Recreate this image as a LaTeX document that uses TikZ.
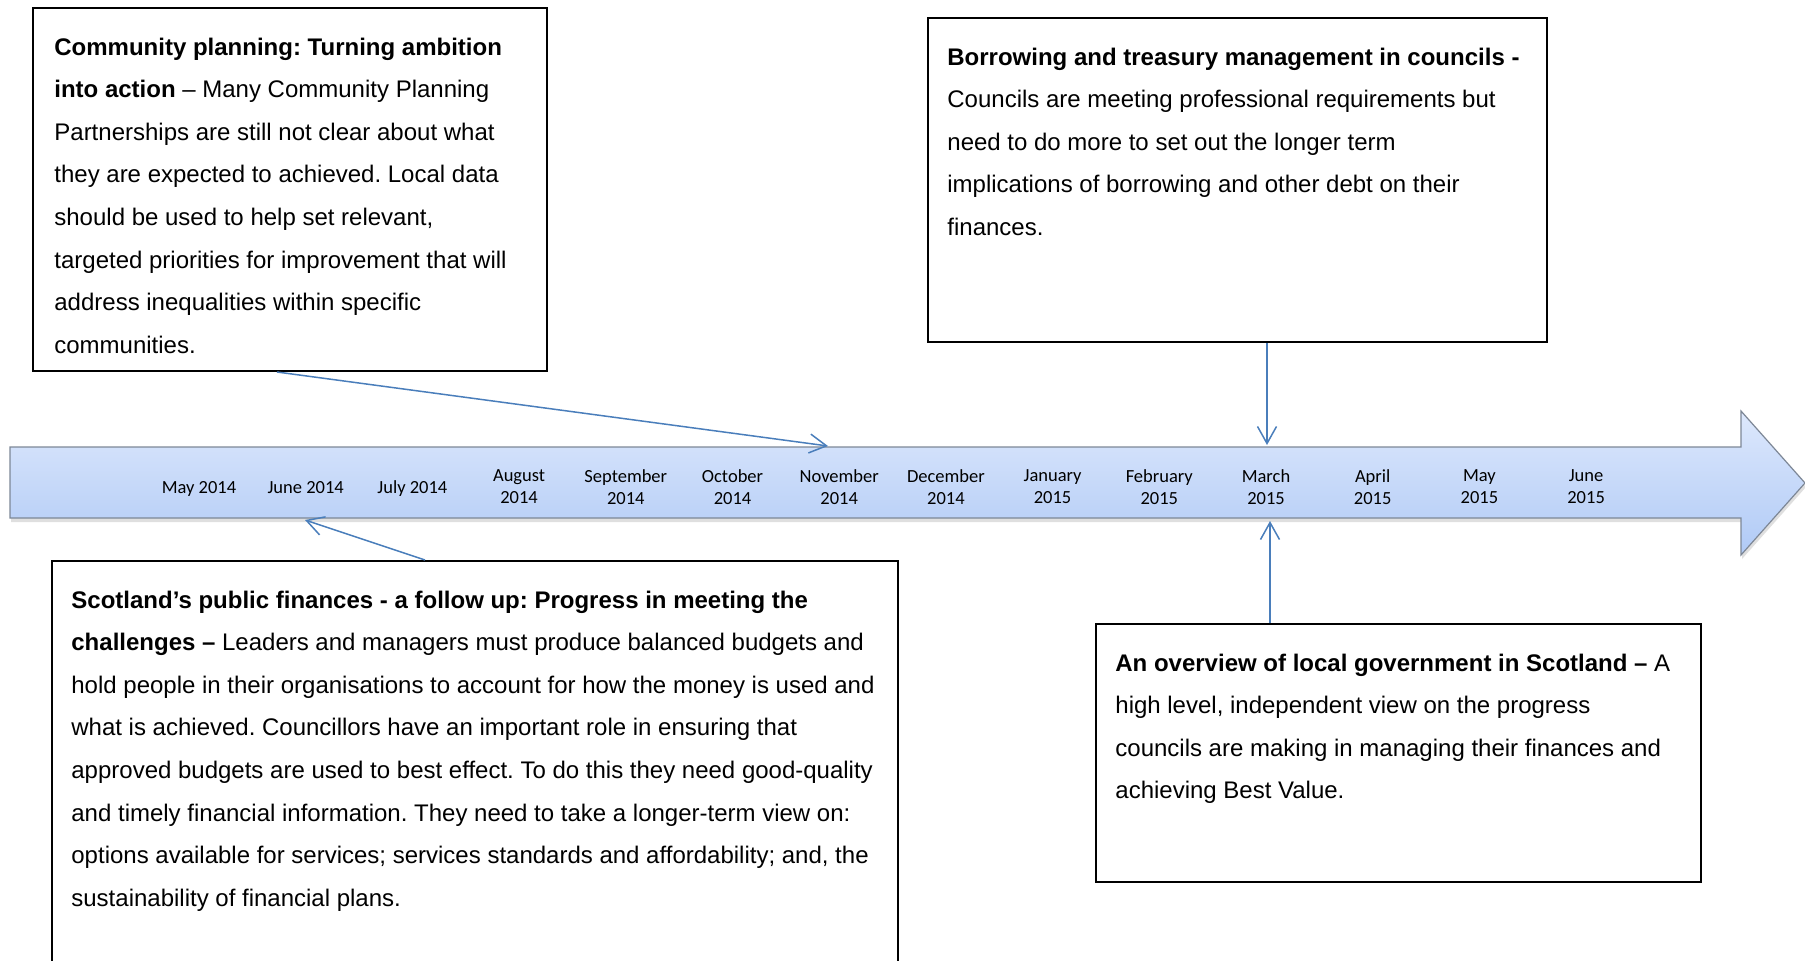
\documentclass[tikz,border=0pt]{standalone}
\usepackage{fontspec}
\setmainfont{Liberation Sans}
\newfontfamily\calibri{Carlito}
\usetikzlibrary{arrows.meta,shadows}
\definecolor{linkblue}{RGB}{74,126,187}
\definecolor{bartop}{RGB}{221,232,252}
\definecolor{barbot}{RGB}{176,202,246}
\definecolor{baredge}{RGB}{125,135,150}
\newcommand{\boxlines}[2]{\begin{minipage}[t]{#1}\raggedright\frenchspacing #2\end{minipage}}

\begin{document}
\begin{tikzpicture}[x=0.5pt, y=-0.5pt, >={Straight Barb[length=8.5pt,width=9.5pt]},
  infobox/.style={draw=black, line width=1pt, anchor=north west, inner sep=0pt},
  boxtext/.style={anchor=base west, inner sep=0pt, font=\fontsize{12}{21.3}\selectfont},
  month/.style={align=center, inner sep=0pt, font=\calibri\fontsize{9.25}{11}\selectfont},
  link/.style={linkblue, line width=0.75pt, ->}]
\useasboundingbox (0,0) rectangle (1805,960);

% timeline arrow
\draw[baredge, line width=0.6pt, top color=bartop, bottom color=barbot,
  drop shadow={shadow xshift=0.5pt, shadow yshift=-2pt, opacity=0.25}]
  (10,447) -- (1741,447) -- (1741,411) -- (1805,483) -- (1741,555) -- (1741,518) -- (10,518) -- cycle;
\foreach \lbl/\yy [count=\i] in {May 2014/489, June 2014/488, July 2014/489, {August\\2014}/487,
  {September\\2014}/487, {October\\2014}/487, {November\\2014}/487, {December\\2014}/487,
  {January\\2015}/487, {February\\2015}/487, {March\\2015}/487, {April\\2015}/487,
  {May\\2015}/487, {June\\2015}/487}
  \node[month] (m\i) at ({199+(\i-1)*106.7}, \yy) {\lbl};

% report boxes
\node[infobox, minimum width=257pt, minimum height=181.5pt] (cp) at (32,7) {};
\node[boxtext] (cptext) at (54,55) {\boxlines{235pt}{\textbf{Community planning: Turning ambition}\\
  \textbf{into action} – Many Community Planning\\
  Partnerships are still not clear about what\\
  they are expected to achieved. Local data\\
  should be used to help set relevant,\\
  targeted priorities for improvement that will\\
  address inequalities within specific\\
  communities.}};

\node[infobox, minimum width=309.5pt, minimum height=162pt] (bt) at (927,17) {};
\node[boxtext] (bttext) at (947,65) {\boxlines{290pt}{\textbf{Borrowing and treasury management in councils -}\\
  Councils are meeting professional requirements but\\
  need to do more to set out the longer term\\
  implications of borrowing and other debt on their\\
  finances.}};

\node[infobox, minimum width=423pt, minimum height=215pt] (pf) at (51,560) {};
\node[boxtext] (pftext) at (71,608) {\boxlines{410pt}{\textbf{Scotland’s public finances - a follow up: Progress in meeting the}\\
  \textbf{challenges –} Leaders and managers must produce balanced budgets and\\
  hold people in their organisations to account for how the money is used and\\
  what is achieved. Councillors have an important role in ensuring that\\
  approved budgets are used to best effect. To do this they need good-quality\\
  and timely financial information. They need to take a longer-term view on:\\
  options available for services; services standards and affordability; and, the\\
  sustainability of financial plans.}};

\node[infobox, minimum width=302.5pt, minimum height=129pt] (ov) at (1095,623) {};
\node[boxtext] (ovtext) at (1115,671) {\boxlines{285pt}{\textbf{An overview of local government in Scotland –} A\\
  high level, independent view on the progress\\
  councils are making in managing their finances and\\
  achieving Best Value.}};

% connectors
\coordinate (novup) at (828,446);
\coordinate (marup) at (1267,445);
\coordinate (jundown) at (305,520);
\coordinate (mardown) at (1270,521);
\draw[link] ([xshift=-6.5pt]cp.south) -- (novup);
\draw[link] (bt.south -| marup) -- (marup);
\draw[link] ([xshift=-25pt]pf.north) -- (jundown);
\draw[link] (ov.north -| mardown) -- (mardown);
\end{tikzpicture}
\end{document}
